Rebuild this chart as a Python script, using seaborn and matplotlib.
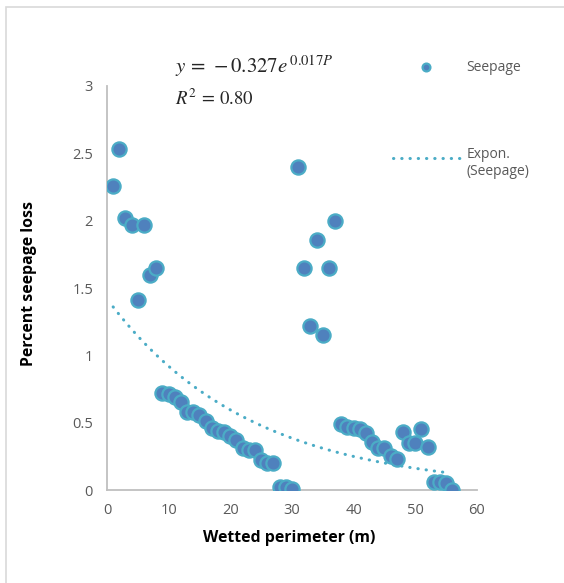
import numpy as np
import pandas as pd
import matplotlib
matplotlib.use("Agg")
import matplotlib.pyplot as plt
import seaborn as sns
from matplotlib.patches import Rectangle

# Wetted perimeter (m) and percent seepage loss
perimeter = list(range(1, 57))
seepage = [2.26, 2.53, 2.02, 1.97, 1.41, 1.97, 1.60, 1.65,
           0.72, 0.71, 0.69, 0.65, 0.58, 0.58, 0.56, 0.51, 0.46, 0.44,
           0.43, 0.40, 0.37, 0.31, 0.30, 0.30, 0.22, 0.20, 0.20,
           0.02, 0.02, 0.01,
           2.40, 1.65, 1.22, 1.86, 1.15, 1.65, 2.00,
           0.49, 0.47, 0.46, 0.45, 0.42, 0.36, 0.31, 0.31, 0.25, 0.23,
           0.43, 0.35, 0.35, 0.45, 0.32, 0.06, 0.06, 0.05, 0.00]

x_ticks = [0, 10, 20, 30, 40, 50, 60]
y_ticks = [0, 0.5, 1, 1.5, 2, 2.5, 3]
y_ticklabels = ["0", "0.5", "1", "1.5", "2", "2.5", "3"]

# exponential trendline as drawn on the chart (coefficients)
trend_a = 1.42
trend_b = -0.0435
trend_x = list(range(1, 56))

df = pd.DataFrame({"perimeter": perimeter, "seepage": seepage})
trend = pd.DataFrame({"perimeter": trend_x})
trend["fit"] = trend_a * np.exp(trend_b * trend["perimeter"])

sns.set_theme(style="white")
plt.rcParams["font.family"] = ["Open Sans", "DejaVu Sans"]
plt.rcParams["mathtext.fontset"] = "stix"

fig = plt.figure(figsize=(5.64, 5.83), dpi=100)
ax = fig.add_axes([0.1897, 0.1595, 0.656, 0.693])

blue = "#4F81BD"
teal = "#4BACC6"
grey_txt = "#595959"

sns.scatterplot(data=df, x="perimeter", y="seepage", ax=ax, s=105,
                color=blue, edgecolor=teal, linewidth=1.6, label="Seepage",
                zorder=3)
sns.lineplot(data=trend, x="perimeter", y="fit", ax=ax, color=teal,
             linewidth=2.2, linestyle=(0, (0.1, 2.6)), dash_capstyle="round",
             label="Expon.\n(Seepage)", zorder=2)

ax.set_xlim(0, 60)
ax.set_ylim(0, 3)
ax.set_xticks(x_ticks)
ax.set_yticks(y_ticks)
ax.set_yticklabels(y_ticklabels)
ax.tick_params(axis="both", length=0, labelsize=10.5, labelcolor=grey_txt)
ax.tick_params(axis="y", pad=10)
ax.tick_params(axis="x", pad=9)
for side in ["top", "right"]:
    ax.spines[side].set_visible(False)
for side in ["left", "bottom"]:
    ax.spines[side].set_color("#BFBFBF")
    ax.spines[side].set_linewidth(1.3)

ax.set_xlabel("Wetted perimeter (m)", fontsize=11.4, fontweight="bold",
              color="black")
ax.set_ylabel("Percent seepage loss", fontsize=11.4, fontweight="bold",
              color="black")
ax.xaxis.set_label_coords(0.492, -0.099)
ax.yaxis.set_label_coords(-0.19, 0.512)

fig.text(0.310, 0.887, r"$y\,=\,-0.327e^{\,0.017P}$", fontsize=15,
         va="center", ha="left")
fig.text(0.310, 0.830, r"$R^2\,=\,0.80$", fontsize=13.5, va="center",
         ha="left")

leg = ax.legend(loc="upper left", bbox_to_anchor=(0.697, 0.897),
                bbox_transform=fig.transFigure, frameon=False, fontsize=10,
                markerscale=0.55, handlelength=4.8, handletextpad=0.5,
                labelspacing=5.2, borderpad=0, borderaxespad=0)
for t in leg.get_texts():
    t.set_color(grey_txt)
# keep the dotted key level with the first line of its two-line label
key = leg.legend_handles[1]
key.set_ydata(np.asarray(key.get_ydata()) + 4.5)

fig.patches.append(Rectangle((0.0106, -0.02), 1.0, 1.008,
                             transform=fig.transFigure, fill=False,
                             edgecolor="#D9D9D9", linewidth=1.2))

fig.savefig("out.png", dpi=100)
